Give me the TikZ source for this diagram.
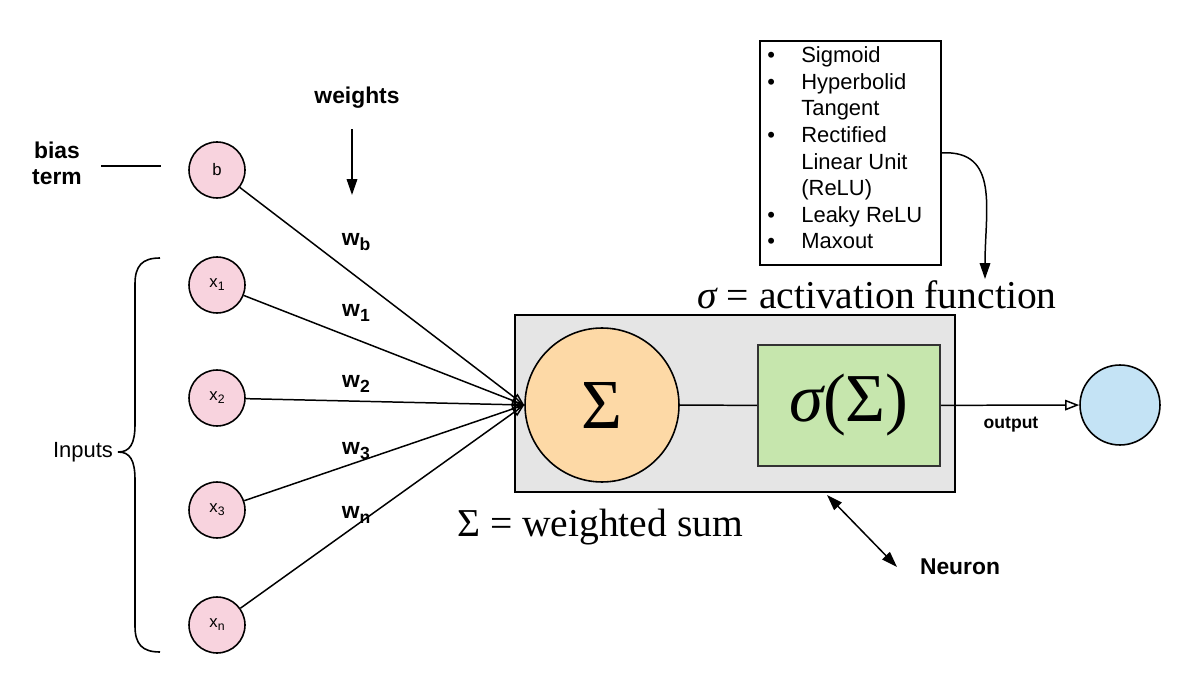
\documentclass[tikz,border=0pt]{standalone}
\usepackage{fontspec}
\setmainfont{Liberation Sans}
\newfontfamily\serif{Liberation Serif}
\usetikzlibrary{arrows.meta,calc}
\definecolor{pinkf}{HTML}{F8D3DE}
\definecolor{peach}{HTML}{FDD9A6}
\definecolor{greenf}{HTML}{C6E6AD}
\definecolor{bluef}{HTML}{C4E3F5}
\definecolor{grayf}{HTML}{E5E5E5}
\newcommand{\wlab}[1]{w\raisebox{-0.35ex}{\fontsize{10}{10}\selectfont #1}}
\newcommand{\xlab}[1]{x\raisebox{-0.35ex}{\fontsize{7}{7}\selectfont #1}}
\begin{document}
\begin{tikzpicture}[x=0.02cm,y=-0.02cm,
  inp/.style={circle,draw,line width=0.9pt,fill=pinkf,minimum size=1.12cm,inner sep=0pt,font=\fontsize{9.5}{10}\selectfont},
  wline/.style={line width=0.85pt,-{Triangle[open,length=7pt,width=5.5pt]}},
  wlabel/.style={font=\fontsize{13}{13}\selectfont\bfseries,inner sep=0pt},
  boldlab/.style={font=\fontsize{13}{14.7}\selectfont\bfseries,align=center,inner sep=0pt},
  serlab/.style={font=\fontsize{22.5}{22.5}\selectfont\serif,inner sep=0pt},
  plain/.style={line width=0.85pt}]
\useasboundingbox (0,0) rectangle (1200,692);

% neuron box and contents
\node[draw,line width=1pt,fill=grayf,minimum width=8.8cm,minimum height=3.54cm,inner sep=0pt] (neuron) at (735,403.5) {};
\node[circle,draw,line width=0.9pt,fill=peach,minimum size=3.08cm,inner sep=0pt,font=\fontsize{40}{40}\selectfont\serif] (sum) at (602,405) {Σ};
\node[draw,draw=black!80,line width=0.9pt,fill=greenf,minimum width=3.64cm,minimum height=2.42cm,inner sep=0pt,font=\fontsize{39}{39}\selectfont\serif] (act) at (849,405.5) {{\itshape σ}(Σ)};
\draw[plain] (sum) -- (act);

% output
\node[circle,draw,line width=0.9pt,fill=bluef,minimum size=1.6cm,inner sep=0pt] (out) at (1120,405) {};
\draw[line width=0.85pt,-{Triangle[open,length=8pt,width=6pt]}] (act) -- (out);
\node[font=\fontsize{10}{10}\selectfont\bfseries,inner sep=0pt] (outlab) at (1011,425) {output};

% inputs
\node[inp] (b) at (217,170) {b};
\node[inp] (x1) at (217,285) {\xlab{1}};
\node[inp] (x2) at (217,398) {\xlab{2}};
\node[inp] (x3) at (217,510) {\xlab{3}};
\node[inp] (xn) at (217,625) {\xlab{n}};
\foreach \n in {b,x1,x2,x3,xn} \draw[wline] (\n) -- (sum.west);

% weight labels
\node[wlabel] (wb) at (356,242) {\wlab{b}};
\node[wlabel] (w1) at (356,313) {\wlab{1}};
\node[wlabel] (w2) at (356,384) {\wlab{2}};
\node[wlabel] (w3) at (356,451) {\wlab{3}};
\node[wlabel] (wn) at (356,515) {\wlab{n}};

% weights
\node[boldlab] (weights) at (357,98) {weights};
\coordinate (wtip) at (352,195);
\draw[line width=0.85pt,-{Triangle[length=9pt,width=6pt]}] (weights.south) ++(-5,20) -- (wtip);

% bias term
\node[boldlab] (bias) at (57,163) {bias\\term};
\coordinate (bl1) at (101,166);
\coordinate (bl2) at (161,166);
\draw[plain] (bl1) -- (bl2);

% brace
\node[font=\fontsize{12.5}{12.5}\selectfont,inner sep=0pt] (inputs) at (83,452) {Inputs};
\coordinate (bt) at (160,258);
\coordinate (bm) at (118,452);
\coordinate (bb) at (160,652);
\draw[line width=0.9pt] (bt) .. controls (142,258) and (135,266) .. (135,284) -- (135,424)
  .. controls (135,444) and (130,452) .. (bm)
  .. controls (130,452) and (135,460) .. (135,480) -- (135,626)
  .. controls (135,644) and (142,652) .. (bb);

% activation list
\node[draw,line width=1pt,minimum width=3.62cm,minimum height=4.48cm,inner sep=0pt,anchor=north west] (list) at (759,40) {};
\node[anchor=north west,inner sep=0pt,font=\fontsize{12.5}{15.1}\selectfont] (listtxt) at (767,44)
 {\begin{tabular}{@{}p{0.68cm}@{}l@{}}
 • & Sigmoid\\
 • & Hyperbolid\\
   & Tangent\\
 • & Rectified\\
   & Linear Unit\\
   & (ReLU)\\
 • & Leaky ReLU\\
 • & Maxout
 \end{tabular}};
\node[serlab] (actlab) at (877,295) {{\itshape σ} = activation function};
\coordinate (acttip) at (985,279);
\draw[line width=0.85pt,-{Triangle[length=9pt,width=6pt]}] (list.east) .. controls (1000,150) and (985,210) .. (acttip);

% weighted sum
\node[serlab] (sumlab) at (600,527) {Σ = weighted sum};

% neuron label
\node[boldlab] (neuronlab) at (960,567) {Neuron};
\coordinate (na) at (827,495);
\coordinate (nb) at (897,567);
\draw[line width=0.85pt,{Triangle[length=9pt,width=6pt]}-{Triangle[length=9pt,width=6pt]}] (na) -- (nb);
\end{tikzpicture}
\end{document}
